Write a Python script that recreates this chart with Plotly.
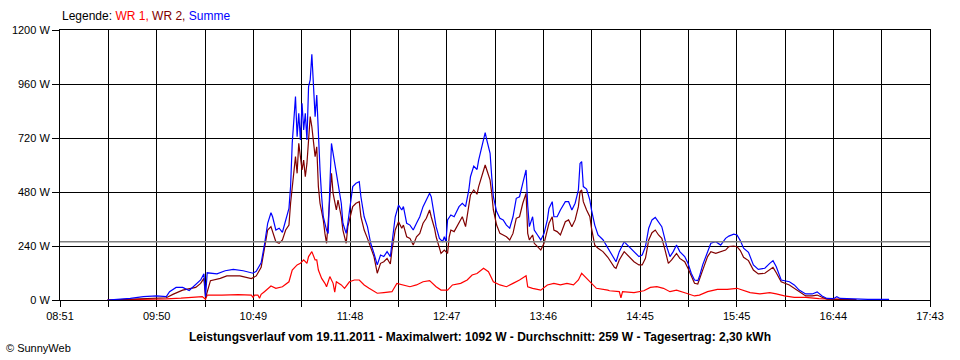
import plotly.graph_objects as go

# ---------------- data ----------------
time_labels = ["08:51", "09:50", "10:49", "11:48", "12:47", "13:46", "14:45", "15:45", "16:44", "17:43"]
y_ticks = [0, 240, 480, 720, 960, 1200]
average_w = 259

summe_t = ["09:20","09:27","09:34","09:42","09:50","09:56","09:58","10:02","10:06","10:10",
           "10:14","10:17","10:19","10:20","10:21","10:27","10:32","10:37","10:43","10:46",
           "10:49","10:51","10:54","10:56","10:58","11:00","11:01","11:03","11:05","11:07",
           "11:09","11:11","11:12","11:13","11:15","11:16","11:17","11:18","11:19","11:20",
           "11:21","11:22","11:23","11:24","11:25","11:26","11:27","11:28","11:29","11:30",
           "11:31","11:32","11:34","11:35","11:36","11:37","11:38","11:40","11:41","11:43",
           "11:44","11:46","11:47","11:49","11:50","11:52","11:54","11:55","11:57","11:59",
           "12:01","12:03","12:05","12:07","12:09","12:11","12:13","12:14","12:16","12:18",
           "12:20","12:21","12:23","12:25","12:27","12:29","12:31","12:33","12:35","12:37",
           "12:38","12:40","12:41","12:43","12:45","12:46","12:47","12:48","12:50","12:52",
           "12:55","12:57","12:59","13:01","13:02","13:04","13:06","13:07","13:09","13:11",
           "13:12","13:14","13:15","13:16","13:18","13:20","13:22","13:24","13:26","13:28",
           "13:30","13:32","13:34","13:36","13:37","13:38","13:40","13:41","13:43","13:45",
           "13:47","13:49","13:50","13:52","13:53","13:55","13:57","14:00","14:02","14:04",
           "14:06","14:08","14:09","14:10","14:11","14:13","14:15","14:16","14:18","14:20",
           "14:23","14:26","14:29","14:31","14:33","14:36","14:38","14:41","14:43","14:45",
           "14:47","14:49","14:51","14:53","14:55","14:57","14:59","15:01","15:02","15:04",
           "15:06","15:08","15:10","15:13","15:15","15:17","15:19","15:21","15:22","15:24",
           "15:27","15:29","15:32","15:35","15:38","15:40","15:43","15:45","15:47","15:49",
           "15:52","15:55","15:58","16:02","16:05","16:07","16:09","16:12","16:17","16:20",
           "16:23","16:27","16:31","16:34","16:37","16:40","16:44","16:46","16:48","16:58",
           "17:05","17:18"]
summe_w = [0, 3, 7, 15, 18, 15, 37, 56, 56, 42,
           67, 89, 116, 15, 121, 116, 130, 136, 130, 124,
           119, 128, 165, 245, 341, 388, 370, 311, 319, 301,
           356, 407, 504, 696, 904, 726, 830, 711, 874, 756,
           830, 711, 948, 978, 1092, 948, 815, 911, 726, 578,
           459, 370, 311, 296, 504, 696, 652, 563, 533, 430,
           341, 296, 341, 450, 504, 519, 526, 459, 370, 326,
           252, 207, 156, 200, 193, 215, 193, 252, 370, 422,
           400, 415, 341, 333, 311, 341, 370, 415, 444, 474,
           459, 370, 326, 274, 259, 281, 259, 356, 378, 370,
           415, 430, 415, 489, 548, 595, 580, 622, 681, 744,
           711, 652, 548, 459, 393, 363, 356, 333, 319, 370,
           452, 459, 519, 578, 420, 326, 370, 311, 289, 267,
           296, 356, 407, 437, 370, 370, 400, 437, 437, 400,
           430, 489, 607, 615, 504, 493, 444, 400, 333, 289,
           268, 230, 193, 170, 215, 259, 244, 222, 207, 193,
           200, 237, 319, 356, 367, 348, 326, 267, 237, 193,
           215, 244, 215, 193, 163, 119, 89, 86, 104, 156,
           215, 252, 259, 244, 274, 284, 293, 289, 264, 230,
           212, 156, 136, 141, 163, 175, 148, 89, 81, 67,
           44, 27, 27, 36, 18, 7, 6, 15, 7, 4,
           3, 3]

wr2_t = ["09:20","09:42","09:56","10:00","10:06","10:14","10:17","10:19","10:20","10:23",
         "10:29","10:33","10:41","10:48","10:51","10:54","10:56","10:58","11:00","11:01",
         "11:03","11:05","11:07","11:09","11:11","11:12","11:14","11:15","11:16","11:17",
         "11:19","11:20","11:21","11:22","11:23","11:24","11:25","11:26","11:27","11:28",
         "11:29","11:30","11:32","11:33","11:34","11:35","11:37","11:38","11:40","11:41",
         "11:43","11:44","11:46","11:47","11:49","11:50","11:52","11:54","11:55","11:57",
         "11:59","12:01","12:03","12:05","12:07","12:09","12:11","12:13","12:14","12:16",
         "12:18","12:20","12:21","12:23","12:25","12:27","12:29","12:31","12:33","12:35",
         "12:37","12:38","12:40","12:41","12:43","12:44","12:46","12:48","12:49","12:50",
         "12:52","12:55","12:57","12:59","13:01","13:02","13:04","13:06","13:07","13:09",
         "13:11","13:12","13:14","13:15","13:16","13:18","13:20","13:22","13:24","13:26",
         "13:28","13:30","13:32","13:34","13:36","13:37","13:38","13:40","13:41","13:43",
         "13:45","13:47","13:49","13:50","13:52","13:53","13:55","13:57","14:00","14:02",
         "14:04","14:06","14:08","14:09","14:10","14:11","14:13","14:15","14:16","14:18",
         "14:20","14:23","14:26","14:30","14:31","14:33","14:36","14:38","14:42","14:45",
         "14:47","14:49","14:51","14:53","14:55","14:57","14:59","15:01","15:03","15:05",
         "15:08","15:10","15:13","15:15","15:17","15:19","15:21","15:22","15:24","15:27",
         "15:29","15:32","15:35","15:38","15:40","15:43","15:45","15:47","15:49","15:52",
         "15:55","15:58","16:02","16:05","16:07","16:09","16:12","16:17","16:20","16:23",
         "16:27","16:31","16:34","16:37","16:40","16:48","16:58"]
wr2_w = [0, 7, 10, 25, 44, 56, 74, 96, 10, 86,
         96, 107, 107, 95, 107, 145, 222, 311, 326, 304,
         259, 252, 267, 311, 333, 430, 578, 637, 563, 696,
         578, 622, 548, 607, 711, 815, 770, 696, 637, 681,
         504, 430, 356, 296, 252, 348, 563, 474, 400, 444,
         370, 311, 252, 326, 380, 415, 430, 437, 370, 311,
         274, 237, 193, 119, 163, 170, 185, 160, 222, 311,
         348, 319, 333, 281, 274, 244, 281, 296, 341, 363,
         400, 370, 319, 281, 237, 207, 222, 207, 281, 311,
         304, 341, 370, 326, 415, 467, 489, 470, 504, 548,
         600, 578, 533, 474, 400, 333, 296, 289, 281, 267,
         296, 363, 370, 430, 474, 296, 267, 289, 252, 237,
         222, 252, 311, 341, 370, 311, 304, 289, 348, 356,
         326, 356, 415, 481, 489, 437, 400, 370, 319, 244,
         230, 215, 190, 145, 141, 178, 215, 200, 170, 156,
         156, 185, 267, 299, 311, 289, 274, 222, 163, 178,
         207, 185, 170, 141, 104, 74, 71, 89, 133, 193,
         215, 207, 215, 222, 237, 240, 237, 220, 190, 175,
         133, 116, 119, 136, 145, 121, 81, 67, 52, 37,
         18, 18, 22, 12, 4, 3, 2]

wr1_t = ["09:20","09:40","09:56","10:05","10:12","10:18","10:20","10:21","10:30","10:40",
         "10:48","10:49","10:50","10:52","10:53","10:54","10:56","11:00","11:03","11:07",
         "11:11","11:13","11:16","11:18","11:20","11:22","11:23","11:25","11:27","11:28",
         "11:29","11:31","11:33","11:34","11:36","11:38","11:39","11:40","11:43","11:45",
         "11:48","11:51","11:54","11:57","12:00","12:05","12:09","12:14","12:17","12:21",
         "12:25","12:29","12:33","12:37","12:41","12:44","12:48","12:51","12:56","13:00",
         "13:03","13:06","13:10","13:13","13:16","13:20","13:24","13:28","13:32","13:36",
         "13:37","13:40","13:45","13:49","13:53","13:57","14:01","14:05","14:08","14:10",
         "14:13","14:16","14:19","14:26","14:27","14:33","14:34","14:35","14:42","14:48",
         "14:52","14:56","15:00","15:04","15:08","15:14","15:19","15:22","15:27","15:33",
         "15:39","15:45","15:49","15:53","15:59","16:05","16:09","16:14","16:20","16:27",
         "16:35","16:44","16:58"]
wr1_w = [0, 2, 5, 8, 12, 15, 3, 22, 22, 24,
         22, 12, 22, 22, 8, 25, 37, 62, 52, 59,
         81, 133, 156, 163, 178, 163, 193, 215, 178, 178,
         133, 96, 74, 59, 104, 74, 35, 81, 67, 52,
         81, 89, 89, 67, 52, 30, 33, 37, 74, 67,
         59, 67, 81, 86, 59, 44, 44, 67, 74, 89,
         111, 118, 141, 126, 81, 67, 59, 74, 89, 108,
         59, 52, 44, 67, 74, 67, 74, 67, 89, 119,
         96, 74, 52, 44, 41, 37, 10, 37, 33, 41,
         56, 59, 52, 37, 44, 30, 18, 22, 37, 47,
         47, 52, 41, 33, 27, 33, 27, 18, 12, 12,
         6, 3, 1]

# ---------------- helpers ----------------
def to_min(s):
    h, m = s.split(":")
    return int(h) * 60 + int(m)

x_start = to_min(time_labels[0])
x_end = to_min(time_labels[-1])
n_int = 18
tickvals = [x_start + k * (x_end - x_start) / n_int for k in range(n_int + 1)]
ticktext = []
for k in range(n_int + 1):
    ticktext.append(time_labels[k // 2] if k % 2 == 0 else "")

FONT = "Liberation Sans, Arial, sans-serif"

fig = go.Figure()
fig.add_trace(go.Scatter(x=[to_min(t) for t in wr1_t], y=wr1_w, mode="lines",
                         line=dict(color="#ff0000", width=1.2), name="WR 1"))
fig.add_trace(go.Scatter(x=[to_min(t) for t in wr2_t], y=wr2_w, mode="lines",
                         line=dict(color="#800000", width=1.2), name="WR 2"))
fig.add_trace(go.Scatter(x=[to_min(t) for t in summe_t], y=summe_w, mode="lines",
                         line=dict(color="#0000ff", width=1.2), name="Summe"))

fig.add_shape(type="line", xref="paper", x0=0, x1=1, yref="y", y0=average_w, y1=average_w,
              line=dict(color="#808080", width=1.5), layer="above")

axis_common = dict(showgrid=True, gridcolor="black", gridwidth=1, showline=True,
                   linecolor="black", linewidth=1, mirror=True, ticks="outside",
                   tickcolor="black", tickwidth=1, zeroline=False,
                   tickfont=dict(family=FONT, size=11, color="black"))

fig.update_xaxes(range=[x_start, x_end], tickmode="array", tickvals=tickvals,
                 ticktext=ticktext, ticklen=6, **axis_common)
fig.update_yaxes(range=[0, 1200], tickmode="array", tickvals=y_ticks,
                 ticktext=[f"{v} W" for v in y_ticks], ticklen=7, **axis_common)

fig.add_annotation(xref="paper", yref="paper", x=0, y=(300 - 16) / 270,
                   xanchor="left", yanchor="middle", showarrow=False,
                   text='Legende: <span style="color:#ff0000">WR 1,</span> '
                        '<span style="color:#800000">WR 2,</span> '
                        '<span style="color:#0000ff">Summe</span>',
                   font=dict(family=FONT, size=12, color="black"))
fig.add_annotation(xref="paper", yref="paper", x=(480 - 60) / 870, y=(300 - 337) / 270,
                   xanchor="center", yanchor="middle", showarrow=False,
                   text="<b>Leistungsverlauf vom 19.11.2011 - Maximalwert: 1092 W - "
                        "Durchschnitt: 259 W - Tagesertrag: 2,30 kWh</b>",
                   font=dict(family=FONT, size=12, color="black"))
fig.add_annotation(xref="paper", yref="paper", x=(4 - 60) / 870, y=(300 - 348) / 270,
                   xanchor="left", yanchor="middle", showarrow=False,
                   text="© SunnyWeb",
                   font=dict(family=FONT, size=11, color="black"))

fig.update_layout(width=960, height=360, margin=dict(l=60, r=30, t=30, b=60),
                  paper_bgcolor="white", plot_bgcolor="white", showlegend=False,
                  font=dict(family=FONT, size=11, color="black"))

fig.write_html("out.html", config={"displayModeBar": False},
               post_script="document.body.style.margin='0';")
